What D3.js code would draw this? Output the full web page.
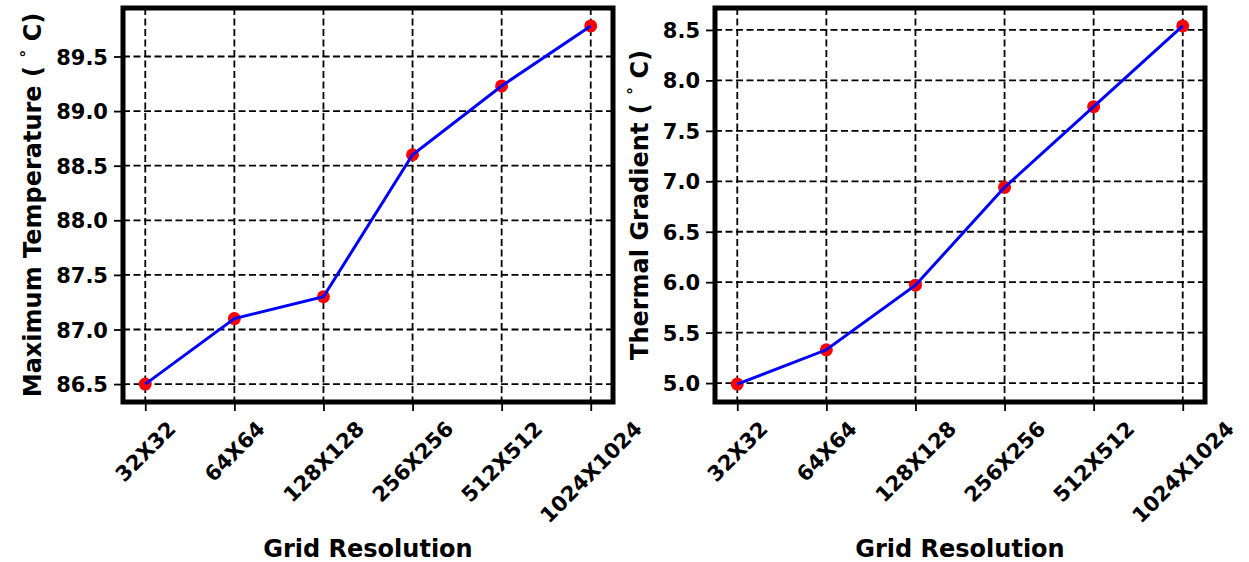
<!DOCTYPE html>
<html>
<head>
<meta charset="utf-8">
<script src="https://cdn.jsdelivr.net/npm/d3@7"></script>
<style>
  html, body { margin: 0; padding: 0; background: #fff; }
  svg { display: block; font-family: "DejaVu Sans", sans-serif; font-weight: bold; }
</style>
</head>
<body>
<svg id="chart" width="1249" height="562"></svg>
<script>
// Grid resolutions on the x axis
const resolutions = ["32X32", "64X64", "128X128", "256X256", "512X512", "1024X1024"];

// Maximum temperature (°C) per resolution
const maxTemperature = [86.5, 87.1, 87.3, 88.6, 89.23, 89.78];

// Thermal gradient (°C) per resolution
const thermalGradient = [4.99, 5.33, 5.97, 6.94, 7.74, 8.54];

// Y tick values
const temperatureTicks = [86.5, 87.0, 87.5, 88.0, 88.5, 89.0, 89.5];
const gradientTicks = [5.0, 5.5, 6.0, 6.5, 7.0, 7.5, 8.0, 8.5];

const svg = d3.select("#chart");

function drawPanel(opts) {
  const { left, right, top, bottom, values, ticks, title, titleX } = opts;
  const g = svg.append("g");

  const n = resolutions.length;
  const x = d3.scaleLinear().domain([-0.05 * (n - 1), (n - 1) * 1.05]).range([left, right]);
  const lo = d3.min(values), hi = d3.max(values), pad = (hi - lo) * 0.05;
  const y = d3.scaleLinear().domain([lo - pad, hi + pad]).range([bottom, top]);

  // dashed grid
  const grid = g.append("g").attr("stroke", "#000").attr("stroke-width", 1.8)
    .attr("stroke-dasharray", "7,3.5").attr("fill", "none");
  grid.selectAll("line.v").data(resolutions).join("line")
    .attr("x1", (d, i) => x(i)).attr("x2", (d, i) => x(i))
    .attr("y1", top).attr("y2", bottom);
  grid.selectAll("line.h").data(ticks).join("line")
    .attr("x1", left).attr("x2", right)
    .attr("y1", d => y(d)).attr("y2", d => y(d));

  // bottom axis: outward ticks, rotated labels
  const xAxis = d3.axisBottom(x).tickValues(d3.range(n))
    .tickFormat(i => resolutions[i]).tickSize(9).tickPadding(9);
  const xa = g.append("g").attr("transform", `translate(0,${bottom})`).call(xAxis);
  xa.select(".domain").remove();
  xa.selectAll(".tick line").attr("stroke", "#000").attr("stroke-width", 1.8);
  xa.selectAll(".tick text").each(function () {
    const t = d3.select(this);
    t.attr("font-size", 21).attr("font-family", "DejaVu Sans").attr("font-weight", "bold")
      .attr("fill", "#000");
    const w = this.getComputedTextLength();
    const h = 21 * 1.1;
    const half = (w + h) * Math.SQRT1_2 / 2;
    t.attr("y", null).attr("dy", null)
      .attr("text-anchor", "middle")
      .attr("dominant-baseline", "central")
      .attr("transform", `translate(0,${15 + half}) rotate(-45)`);
  });

  // left axis
  const yAxis = d3.axisLeft(y).tickValues(ticks).tickFormat(d3.format(".1f"))
    .tickSize(9).tickPadding(6);
  const ya = g.append("g").attr("transform", `translate(${left},0)`).call(yAxis);
  ya.select(".domain").remove();
  ya.selectAll(".tick line").attr("stroke", "#000").attr("stroke-width", 1.8);
  ya.selectAll(".tick text").attr("font-size", 21).attr("font-family", "DejaVu Sans")
    .attr("font-weight", "bold").attr("fill", "#000").attr("dy", "0.36em");

  // markers, then the connecting line on top
  g.append("g").selectAll("circle").data(values).join("circle")
    .attr("cx", (d, i) => x(i)).attr("cy", d => y(d)).attr("r", 6.5).attr("fill", "#ff0000");
  g.append("path").datum(values)
    .attr("d", d3.line().x((d, i) => x(i)).y(d => y(d)))
    .attr("fill", "none").attr("stroke", "#0000ff").attr("stroke-width", 3);

  // thick frame
  g.append("rect").attr("x", left).attr("y", top)
    .attr("width", right - left).attr("height", bottom - top)
    .attr("fill", "none").attr("stroke", "#000").attr("stroke-width", 5);

  // axis titles
  g.append("text").attr("x", (left + right) / 2).attr("y", 557)
    .attr("text-anchor", "middle").attr("font-size", 24).text("Grid Resolution");

  const yt = g.append("text")
    .attr("transform", `translate(${titleX},${(top + bottom) / 2}) rotate(-90)`)
    .attr("text-anchor", "middle").attr("font-size", 24);
  yt.append("tspan").text(title + " ( ");
  yt.append("tspan").attr("font-size", 16).attr("dy", -9).text("\u00B0");
  yt.append("tspan").attr("dy", 9).text(" C)");
}

drawPanel({ left: 123, right: 613, top: 8, bottom: 402,
  values: maxTemperature, ticks: temperatureTicks,
  title: "Maximum Temperature", titleX: 41 });

drawPanel({ left: 715, right: 1205, top: 8, bottom: 402,
  values: thermalGradient, ticks: gradientTicks,
  title: "Thermal Gradient", titleX: 648 });
</script>
</body>
</html>
